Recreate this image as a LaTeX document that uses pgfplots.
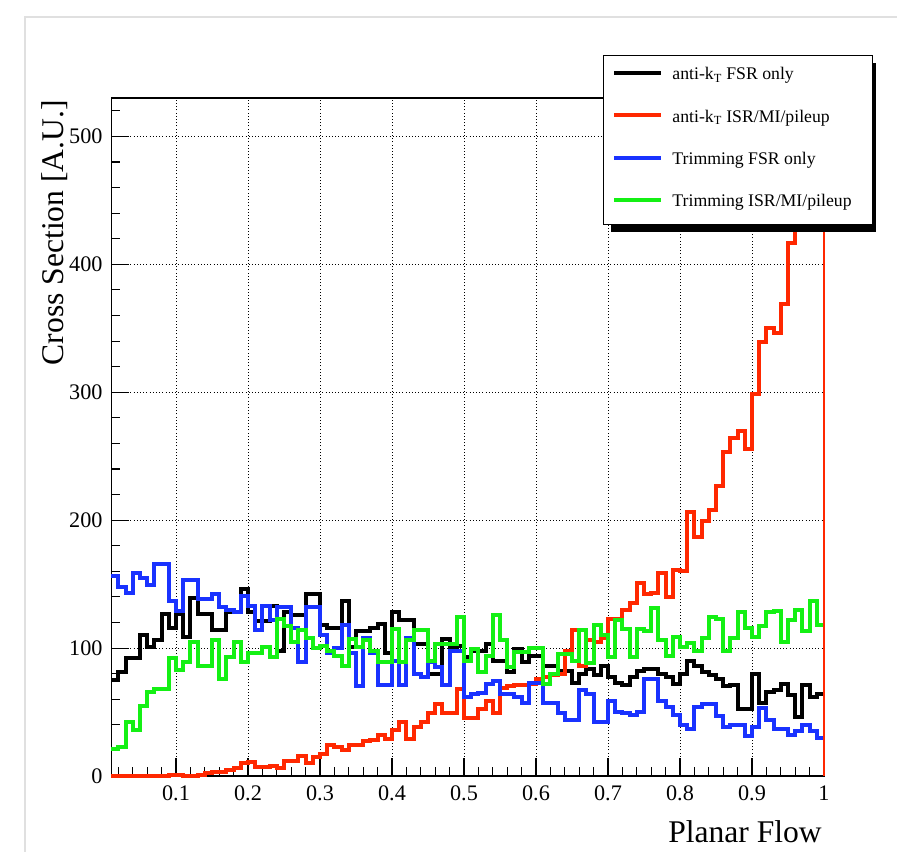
\documentclass[border=0pt]{standalone}
\usepackage{fontspec}
\setmainfont{Liberation Serif}
\usepackage{pgfplots}
\pgfplotsset{compat=1.18}
\usepackage{pgfplotstable}
\definecolor{hred}{RGB}{255,40,0}
\definecolor{hblue}{RGB}{25,50,255}
\definecolor{hgreen}{RGB}{20,240,20}
\definecolor{canvasframe}{RGB}{224,224,224}

\pgfplotstableread{
x k r b g
0.01 75 0 156 21
0.02 81 0 148 23
0.03 92 0 143 42
0.04 92 0 159 36
0.05 110 0 155 55
0.06 101 0 149 66
0.07 106 0 166 68
0.08 127 0 166 68
0.09 116 1 137 92
0.10 127 1 129 83
0.11 109 0 153 89
0.12 139 0 153 105
0.13 127 1 138 86
0.14 127 2 138 86
0.15 114 3 142 106
0.16 114 3 132 76
0.17 128 5 130 93
0.18 128 6 128 105
0.19 146 10 141 89
0.20 128 11 133 96
0.21 121 7 114 96
0.22 121 7 133 101
0.23 133 8 122 93
0.24 98 6 132 123
0.25 128 12 132 117
0.26 126 12 116 105
0.27 126 16 89 114
0.28 142 10 132 108
0.29 142 15 132 100
0.30 118 17 110 102
0.31 116 24 96 98
0.32 116 23 100 94
0.33 137 20 118 86
0.34 101 24 96 107
0.35 113 24 70 101
0.36 113 27 108 106
0.37 116 28 96 98
0.38 119 32 71 89
0.39 96 29 71 89
0.40 128 36 90 115
0.41 122 42 71 89
0.42 122 29 108 106
0.43 103 38 80 114
0.44 103 42 77 114
0.45 80 49 89 90
0.46 80 56 85 103
0.47 107 49 71 103
0.48 100 49 98 103
0.49 102 68 98 124
0.50 93 45 62 90
0.51 98 45 64 99
0.52 98 52 65 81
0.53 103 59 72 94
0.54 90 49 74 126
0.55 90 69 64 106
0.56 81 70 64 85
0.57 99 71 62 97
0.58 89 71 57 97
0.59 94 72 73 100
0.60 94 76 73 100
0.61 86 77 57 72
0.62 86 79 57 80
0.63 82 80 49 95
0.64 82 98 44 95
0.65 73 114 44 90
0.66 80 86 67 114
0.67 84 106 64 88
0.68 79 105 42 118
0.69 86 108 42 110
0.70 77 123 59 93
0.71 73 123 50 122
0.72 71 130 49 115
0.73 77 135 48 93
0.74 82 151 50 115
0.75 84 142 76 113
0.76 84 143 76 131
0.77 80 159 59 106
0.78 77 140 54 94
0.79 72 161 48 109
0.80 80 160 40 101
0.81 90 206 37 104
0.82 86 187 54 98
0.83 81 199 56 108
0.84 79 208 56 124
0.85 76 227 47 123
0.86 70 253 38 98
0.87 71 264 40 108
0.88 52 270 40 128
0.89 52 256 31 116
0.90 80 299 38 109
0.91 57 339 53 117
0.92 66 350 44 128
0.93 67 346 37 129
0.94 72 369 37 105
0.95 63 417 32 122
0.96 46 470 35 130
0.97 71 500 40 113
0.98 62 515 35 137
0.99 64 525 30 118
1.00 64 525 30 118
}\hist

\begin{document}
\begin{tikzpicture}
\begin{axis}[
  scale only axis, width=712.8bp, height=678bp,
  xmin=0.01, xmax=1, ymin=0, ymax=530,
  clip=false,
  xtick={0.1,0.2,0.3,0.4,0.5,0.6,0.7,0.8,0.9,1},
  xticklabels={0.1,0.2,0.3,0.4,0.5,0.6,0.7,0.8,0.9,1},
  ytick={0,100,200,300,400,500},
  yticklabels={0,100,200,300,400,500},
  minor xtick={0.02,0.04,...,0.99},
  minor ytick={20,40,...,520},
  tick align=inside,
  xtick pos=bottom, ytick pos=left,
  major tick length=18bp, minor tick length=9bp,
  every tick/.style={black, line width=1.1bp},
  grid=major,
  major grid style={black, line width=0.9bp, dash pattern=on 1bp off 2.2bp},
  axis line style={line width=1.2bp},
  tick label style={font=\fontsize{22.3}{26}\selectfont, inner sep=0pt},
  xticklabel style={anchor=base, yshift=-24bp},
  yticklabel style={anchor=east, xshift=-8.5bp},
  xlabel={Planar Flow}, ylabel={Cross Section [A.U.]},
  label style={font=\fontsize{31.7}{36}\selectfont, inner sep=0pt},
  xlabel style={at={(axis description cs:0.9972,-0.0988)}, anchor=base east},
  ylabel style={at={(axis description cs:-0.0673,0.997)}, anchor=base east},
  legend style={at={(axis description cs:0.6899,1.0634)}, anchor=north west,
    draw=black, line width=1bp, fill=white, inner sep=0pt, column sep=0pt, row sep=0pt,
    font=\fontsize{17.8}{20}\selectfont,
    nodes={inner sep=0pt, text height=24.3bp, text depth=17.95bp}},
  legend cell align=left,
  legend image code/.code={\draw[line width=4.2bp] (9bp,3.5bp) -- (56bp,3.5bp); \path (0bp,0bp) (65bp,0bp);},
]
\coordinate (O) at (rel axis cs:0,0);
\addplot[const plot, black, line width=4bp] table[x=x, y=k] {\hist};
\addlegendentry{\makebox[200bp][l]{anti-k\textsubscript{T} FSR only}}
\addplot[const plot, hred, line width=4bp] table[x=x, y=r] {\hist};
\addlegendentry{\makebox[200bp][l]{anti-k\textsubscript{T} ISR/MI/pileup}}
\addplot[const plot, hblue, line width=4bp] table[x=x, y=b] {\hist};
\addlegendentry{\makebox[200bp][l]{Trimming FSR only}}
\addplot[const plot, hgreen, line width=4bp] table[x=x, y=g] {\hist};
\addlegendentry{\makebox[200bp][l]{Trimming ISR/MI/pileup}}
\addplot[hred, line width=2bp, forget plot] coordinates {(1,525) (1,0)};
\fill[black] (axis description cs:0.6899,1.0634) ++(8bp,-8bp) rectangle ++(265bp,-169bp);
\end{axis}
\draw[canvasframe, line width=2.5bp] ([shift={(-86.2bp,-76bp)}]O) -- ([shift={(-86.2bp,759bp)}]O) -- ([shift={(785.8bp,759bp)}]O);
\pgfresetboundingbox
\path[use as bounding box] ([shift={(-111.2bp,-76bp)}]O) rectangle ([shift={(785.8bp,776bp)}]O);
\end{tikzpicture}
\end{document}
